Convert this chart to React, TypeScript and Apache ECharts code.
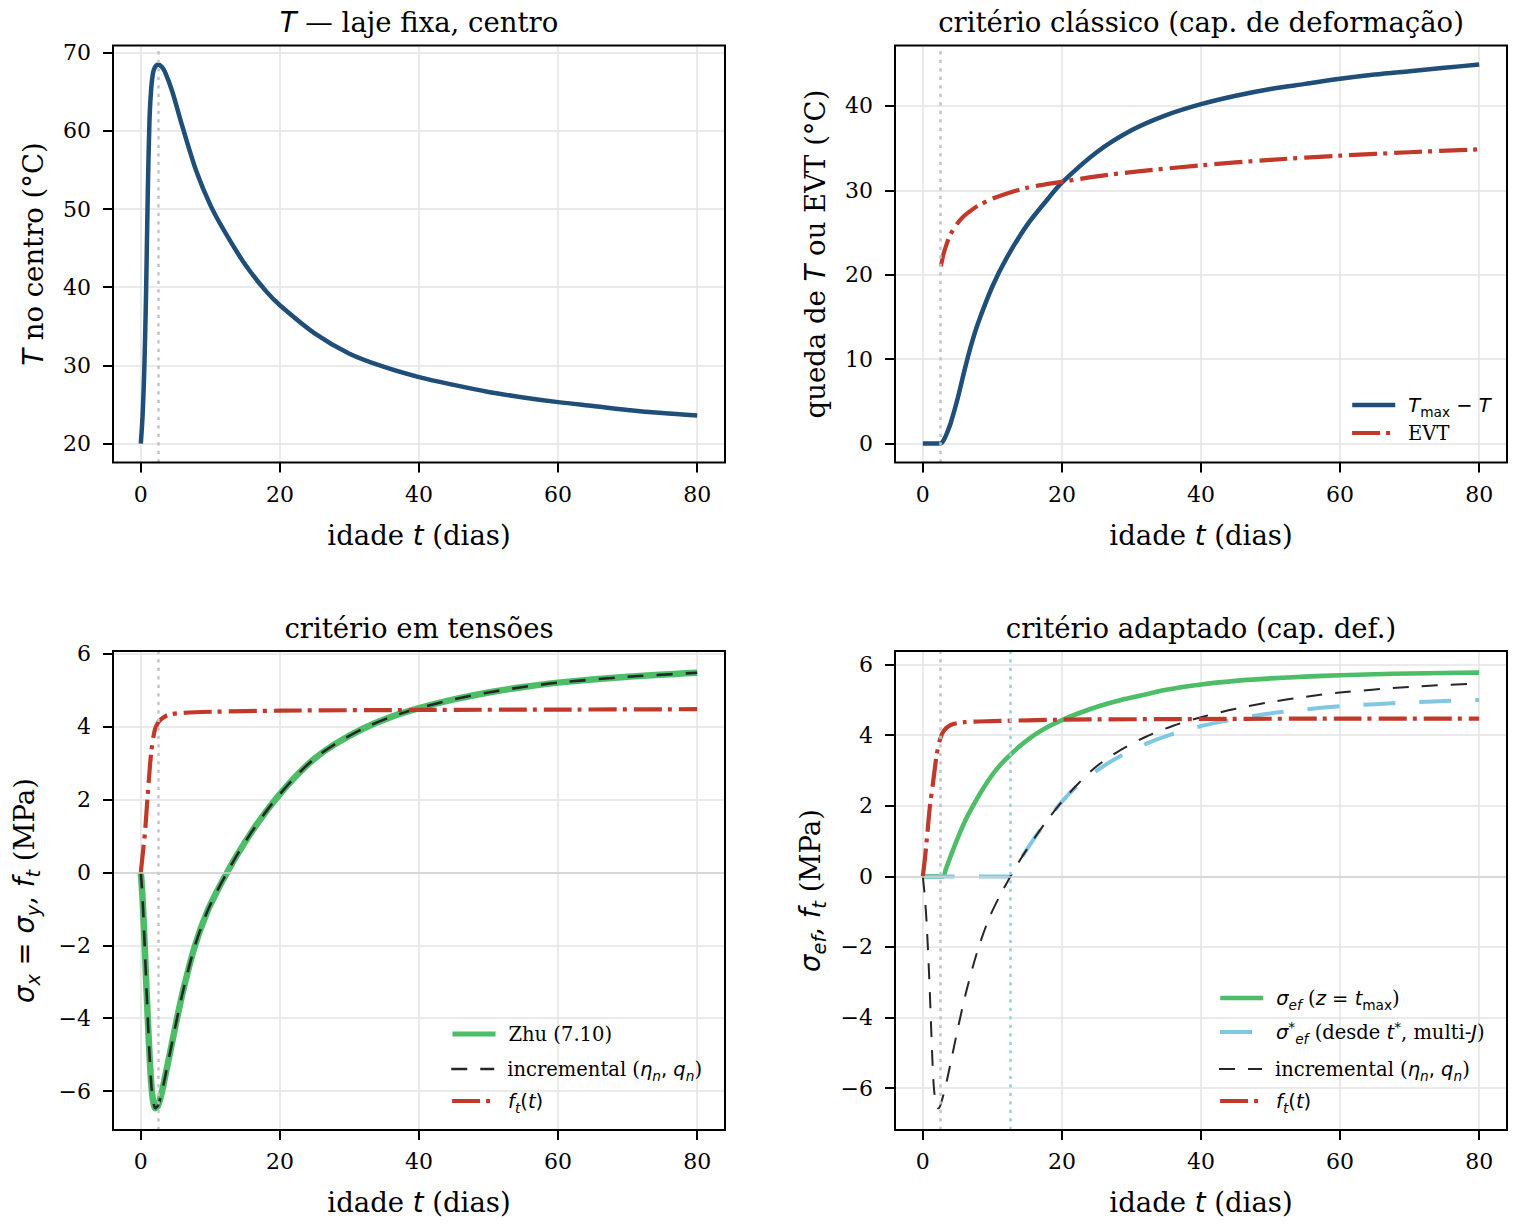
import React, { useEffect, useRef } from 'react';
import * as echarts from 'echarts';

// ---------------- data ----------------
// panel 1 : T no centro
const tTemp = [0, 0.25, 0.5, 0.75, 1.0, 1.25, 1.5, 1.75, 2.0, 2.5, 3.0, 3.5, 4.5, 6, 8, 10, 12, 15, 18, 20, 25, 30, 35, 40, 45, 50, 55, 60, 65, 70, 75, 80];
const vTemp = [20, 23.5, 29.5, 39, 52, 61.5, 65.5, 67.4, 68.1, 68.5, 68.2, 67.5, 65.1, 60.5, 54.8, 50.5, 47.2, 42.9, 39.5, 37.7, 34.1, 31.5, 29.8, 28.5, 27.5, 26.6, 25.9, 25.3, 24.8, 24.3, 23.9, 23.6];

// panel 2 : Tmax - T and EVT
const tDrop = [0, 2.5, 3, 3.5, 4, 5, 6, 7, 8, 10, 12, 15, 18, 20, 25, 30, 35, 40, 45, 50, 55, 60, 65, 70, 75, 80];
const vDrop = [0, 0, 0.4, 1.3, 2.4, 5.3, 8.7, 11.8, 14.4, 18.6, 21.9, 25.9, 29.0, 30.9, 34.5, 37.1, 38.9, 40.2, 41.2, 42.0, 42.6, 43.2, 43.7, 44.1, 44.5, 44.9];
const tEVT = [2.6, 3.0, 3.5, 4, 5, 6, 7, 8, 10, 12, 15, 20, 25, 30, 40, 50, 60, 70, 80];
const vEVT = [21.0, 22.5, 23.8, 24.8, 26.1, 27.0, 27.65, 28.2, 29.0, 29.6, 30.3, 31.0, 31.65, 32.15, 32.95, 33.6, 34.1, 34.5, 34.85];

// panel 3 : Zhu (7.10), incremental, f_t
const tZhu = [0, 0.25, 0.5, 0.75, 1.0, 1.25, 1.5, 1.75, 2.1, 2.5, 3.0, 3.5, 4.2, 5.1, 6.2, 7.8, 9.5, 11, 12.4, 14, 16, 18, 20, 22.5, 25, 28, 32, 36, 40, 45, 50, 55, 60, 70, 80];
const vZhu = [0, -0.7, -1.75, -2.9, -4.0, -5.0, -5.8, -6.25, -6.47, -6.38, -6.05, -5.6, -4.95, -4.1, -3.15, -2.0, -1.1, -0.5, 0, 0.53, 1.13, 1.67, 2.15, 2.68, 3.13, 3.53, 3.95, 4.27, 4.51, 4.75, 4.94, 5.09, 5.21, 5.37, 5.48];
const vInc3 = [0, -0.7, -1.75, -2.9, -4.0, -5.0, -5.8, -6.25, -6.47, -6.38, -6.05, -5.6, -4.95, -4.1, -3.15, -2.0, -1.1, -0.5, 0, 0.53, 1.13, 1.67, 2.15, 2.68, 3.13, 3.53, 3.95, 4.27, 4.51, 4.75, 4.94, 5.09, 5.21, 5.37, 5.48];
const tFt = [0, 0.3, 0.6, 1.0, 1.5, 2.0, 2.5, 3.0, 4.0, 6, 10, 20, 40, 60, 80];
const vFt3 = [0, 0.55, 1.1, 2.15, 3.3, 3.9, 4.12, 4.22, 4.33, 4.38, 4.41, 4.44, 4.46, 4.47, 4.48];

// panel 4 : sigma_ef, sigma_ef*, incremental, f_t
const tSef = [0, 2.9, 3.3, 3.9, 5, 6.3, 7.7, 8.7, 10, 11.1, 12.6, 14, 15.9, 18, 20, 22.5, 25.4, 28.5, 31.5, 35, 40, 45, 50, 55, 60, 65, 70, 75, 80];
const vSef = [0, 0, 0.2, 0.52, 1.08, 1.66, 2.17, 2.5, 2.88, 3.15, 3.45, 3.7, 3.99, 4.24, 4.43, 4.63, 4.83, 5.0, 5.13, 5.29, 5.44, 5.54, 5.61, 5.66, 5.7, 5.73, 5.75, 5.765, 5.775];
const tSefS = [0, 12.6, 14, 16, 18, 20, 22.5, 25.4, 28.5, 32.6, 36, 40, 45, 49.3, 55, 60, 65, 70, 75, 80];
const vSefS = [0, 0, 0.47, 1.07, 1.62, 2.12, 2.62, 3.05, 3.42, 3.8, 4.04, 4.26, 4.46, 4.6, 4.73, 4.82, 4.88, 4.93, 4.97, 5.0];
const tInc4 = [0, 0.3, 0.57, 0.95, 1.2, 1.4, 1.64, 2.0, 2.2, 2.5, 2.95, 3.5, 4.2, 5.1, 6.2, 7.8, 9.5, 11.1, 12.6, 14, 16, 18, 20, 22.5, 25, 28, 32, 36, 40, 45, 50, 55, 60, 70, 80];
const vInc4 = [0, -0.6, -1.4, -3.0, -4.3, -5.3, -6.1, -6.5, -6.57, -6.5, -6.2, -5.75, -5.1, -4.25, -3.3, -2.15, -1.2, -0.54, 0, 0.47, 1.07, 1.62, 2.12, 2.66, 3.12, 3.53, 3.95, 4.27, 4.51, 4.75, 4.94, 5.09, 5.21, 5.37, 5.47];
const vFt4 = [0, 0.5, 1.1, 1.95, 2.7, 3.45, 3.9, 4.12, 4.29, 4.37, 4.40, 4.44, 4.46, 4.47, 4.47];

// reference times (vertical dotted lines)
const tPeak = 2.5;
const tStar = 12.6;

// ticks
const xTicks = [0, 20, 40, 60, 80];
const yTicks1 = [20, 30, 40, 50, 60, 70];
const yTicks2 = [0, 10, 20, 30, 40];
const yTicks3 = [-6, -4, -2, 0, 2, 4, 6];
const yTicks4 = [-6, -4, -2, 0, 2, 4, 6];

// ---------------- styling ----------------
const SERIF = 'DejaVu Serif';
const SANS = 'DejaVu Sans';
const BLUE = '#1f4e79';
const RED = '#c0392b';
const GREEN = '#4dbd68';
const LBLUE = '#80c7e4';
const DARK = '#262626';
const DASHDOT = [28, 6, 4, 7];
const DASH = [16, 13];
const LDASH = [32, 24];
const DOT = [3.3, 5.2];
const TICK_FS = 22;

function mkRich(size: number, lh: number, pSub: number, pSup: number) {
  const small = Math.round(size * 0.7 * 10) / 10;
  const base = { color: '#000', fill: '#000', lineHeight: lh };
  return {
    n: { ...base, fontFamily: SERIF, fontSize: size },
    i: { ...base, fontFamily: SANS, fontStyle: 'italic', fontSize: size },
    m: { ...base, fontFamily: SANS, fontSize: size },
    s: { ...base, fontFamily: SANS, fontStyle: 'italic', fontSize: small, height: lh - pSub, padding: [pSub, 0, 0, 0] },
    su: { ...base, fontFamily: SANS, fontSize: small, height: lh - pSub, padding: [pSub, 0, 0, 0] },
    sp: { ...base, fontFamily: SANS, fontSize: small, height: lh - pSup, padding: [0, 0, pSup, 0] },
  };
}
const bigRich = mkRich(27.5, 33, 19, 14);
const legRich = mkRich(19.5, 24, 14, 10);

const legendLabels: Record<string, string> = {
  drop: '{i|T}{su|max}{m| − }{i|T}',
  evt: '{n|EVT}',
  zhu: '{n|Zhu (7.10)}',
  inc3: '{n|incremental (}{i|η}{s|n}{m|, }{i|q}{s|n}{n|)}',
  ft3: '{i|f}{s|t}{m|(}{i|t}{m|)}',
  sef: '{i|σ}{s|ef}{n| (}{i|z}{m| = }{i|t}{su|max}{n|)}',
  sefs: '{i|σ}{sp|*}{s|ef}{n| (desde }{i|t}{sp|*}{n|, multi-}{i|J}{n|)}',
  inc4: '{n|incremental (}{i|η}{s|n}{m|, }{i|q}{s|n}{n|)}',
  ft4: '{i|f}{s|t}{m|(}{i|t}{m|)}',
};

const grids = [
  { left: 113, top: 45.5, width: 612, height: 417 },
  { left: 895, top: 45.5, width: 612, height: 417 },
  { left: 113, top: 651, width: 612, height: 479 },
  { left: 895, top: 651, width: 612, height: 479 },
];

const yRanges: [number, number][] = [
  [17.575, 70.925],
  [-2.245, 47.145],
  [-7.0675, 6.0775],
  [-7.187, 6.387],
];

const fmtMinus = (v: number) => (v < 0 ? '−' + Math.abs(v) : String(v));

function xAx(gi: number) {
  return {
    type: 'value', gridIndex: gi, min: -4, max: 84, splitNumber: 5,
    name: '{n|idade }{i|t}{n| (dias)}', nameLocation: 'middle', nameGap: gi < 2 ? 56 : 55.5,
    nameMoveOverlap: false,
    nameTextStyle: { rich: bigRich },
    axisLine: { show: false, onZero: false },
    axisTick: { show: true, length: 10, customValues: xTicks, lineStyle: { color: '#000', width: 2 } },
    axisLabel: { customValues: xTicks, fontFamily: SERIF, fontSize: TICK_FS, color: '#000', margin: 20.5, formatter: fmtMinus },
    splitLine: { show: true, lineStyle: { color: '#e3e3e3', width: 1.5 } },
  };
}

function yAx(gi: number, name: string, ticks: number[], gap: number) {
  return {
    type: 'value', gridIndex: gi, min: yRanges[gi][0], max: yRanges[gi][1], splitNumber: gi < 2 ? 5 : 6,
    name, nameLocation: 'middle', nameGap: gap, nameRotate: 90, nameMoveOverlap: false,
    nameTextStyle: { rich: bigRich },
    axisLine: { show: false, onZero: false },
    axisTick: { show: true, length: 10, customValues: ticks, lineStyle: { color: '#000', width: 2 } },
    axisLabel: { customValues: ticks, fontFamily: SERIF, fontSize: TICK_FS, color: '#000', margin: 22, formatter: fmtMinus },
    splitLine: { show: true, lineStyle: { color: '#e3e3e3', width: 1.5 } },
  };
}

function line(name: string, gi: number, t: number[], v: number[], color: string, width: number, type: any, extra: any = {}) {
  return {
    type: 'line', name, xAxisIndex: gi, yAxisIndex: gi,
    data: t.map((x, i) => [x, v[i]]),
    symbol: 'none', showSymbol: false, smooth: 0.3,
    lineStyle: { color, width, type, join: 'round', cap: 'butt' },
    itemStyle: { color },
    emphasis: { disabled: true },
    silent: true,
    ...extra,
  };
}

const grayDot = { color: '#c4c4c4', width: 2.5, type: DOT };
const blueDot = { color: '#96cfe6', width: 2.5, type: DOT };
const zeroLn = { color: '#d2d2d2', width: 1.5, type: 'solid' };

function mark(items: any[]) {
  return {
    markLine: {
      silent: true, symbol: ['none', 'none'], label: { show: false }, emphasis: { disabled: true },
      animation: false, data: items,
    },
  };
}

// one legend component per row, so that rows sit exactly where the reference has them
function legendRow(left: number, rowCenter: number, name: string, w: number) {
  return {
    orient: 'vertical', left, top: rowCenter - 12, padding: 0, itemGap: 0, itemWidth: 43, itemHeight: 24,
    selectedMode: false,
    itemStyle: { opacity: 0 },
    data: [{ name, lineStyle: { width: w }, itemStyle: { opacity: 0 } }],
    formatter: (n: string) => legendLabels[n] || n,
    textStyle: { fontFamily: SERIF, fontSize: 19.5, color: '#000', rich: legRich, padding: [0, 0, 0, 8] },
  };
}

function buildOption() {
  const titles = [
    { x: 419, y: 22, text: '{i|T}{n| — laje fixa, centro}' },
    { x: 1201, y: 22, text: '{n|critério clássico (cap. de deformação)}' },
    { x: 419, y: 628, text: '{n|critério em tensões}' },
    { x: 1201, y: 628, text: '{n|critério adaptado (cap. def.)}' },
  ];
  const graphic: any[] = [];
  titles.forEach((t) => {
    graphic.push({
      type: 'text', x: t.x, y: t.y, silent: true, z: 100,
      style: { text: t.text, rich: bigRich, align: 'center', verticalAlign: 'middle', fill: '#000', fontFamily: SERIF, fontSize: 27.5 },
    });
  });
  grids.forEach((g) => {
    graphic.push({
      type: 'rect', silent: true, z: 100,
      shape: { x: g.left, y: g.top, width: g.width, height: g.height },
      style: { fill: 'none', stroke: '#000', lineWidth: 2 },
    });
  });

  return {
    animation: false,
    backgroundColor: '#fff',
    textStyle: { fontFamily: SERIF },
    grid: grids.map((g) => ({ ...g, containLabel: false, outerBoundsMode: 'none' })),
    xAxis: [xAx(0), xAx(1), xAx(2), xAx(3)],
    yAxis: [
      yAx(0, '{i|T}{n| no centro (°C)}', yTicks1, 63.5),
      yAx(1, '{n|queda de }{i|T}{n| ou EVT (°C)}', yTicks2, 63.5),
      yAx(2, '{i|σ}{s|x}{m| = }{i|σ}{s|y}{n|, }{i|f}{s|t}{n| (MPa)}', yTicks3, 73),
      yAx(3, '{i|σ}{s|ef}{n|, }{i|f}{s|t}{n| (MPa)}', yTicks4, 68.5),
    ],
    legend: [
      legendRow(1350, 405, 'drop', 4.5),
      legendRow(1350, 435, 'evt', 4.2),
      legendRow(450, 1036, 'zhu', 5),
      legendRow(450, 1069, 'inc3', 2.5),
      legendRow(450, 1101, 'ft3', 4.2),
      legendRow(1218, 998, 'sef', 4.5),
      legendRow(1218, 1032, 'sefs', 4),
      legendRow(1218, 1069, 'inc4', 2),
      legendRow(1218, 1101, 'ft4', 4.2),
    ],
    series: [
      line('temp', 0, tTemp, vTemp, BLUE, 4.5, 'solid', mark([{ xAxis: tPeak, lineStyle: grayDot }])),
      line('drop', 1, tDrop, vDrop, BLUE, 4.5, 'solid', mark([{ xAxis: tPeak, lineStyle: grayDot }])),
      line('evt', 1, tEVT, vEVT, RED, 4.2, DASHDOT),
      line('zhu', 2, tZhu, vZhu, GREEN, 6.5, 'solid', mark([{ xAxis: tPeak, lineStyle: grayDot }, { yAxis: 0, lineStyle: zeroLn }])),
      line('inc3', 2, tZhu, vInc3, DARK, 2.6, DASH),
      line('ft3', 2, tFt, vFt3, RED, 4.2, DASHDOT),
      line('sef', 3, tSef, vSef, GREEN, 4.6, 'solid', mark([{ xAxis: tPeak, lineStyle: grayDot }, { xAxis: tStar, lineStyle: blueDot }, { yAxis: 0, lineStyle: zeroLn }])),
      line('sefs', 3, tSefS, vSefS, LBLUE, 4, LDASH),
      line('inc4', 3, tInc4, vInc4, DARK, 2, DASH),
      line('ft4', 3, tFt, vFt4, RED, 4.2, DASHDOT),
    ],
    graphic,
  };
}

export default function App() {
  const ref = useRef<HTMLDivElement>(null);
  useEffect(() => {
    if (!ref.current) return;
    const chart = echarts.init(ref.current, undefined, { renderer: 'svg' });
    chart.setOption(buildOption() as any);
    return () => chart.dispose();
  }, []);
  return (
    <div
      ref={ref}
      style={{ position: 'absolute', left: 0, top: 0, width: 1515, height: 1226, background: '#fff' }}
    />
  );
}
